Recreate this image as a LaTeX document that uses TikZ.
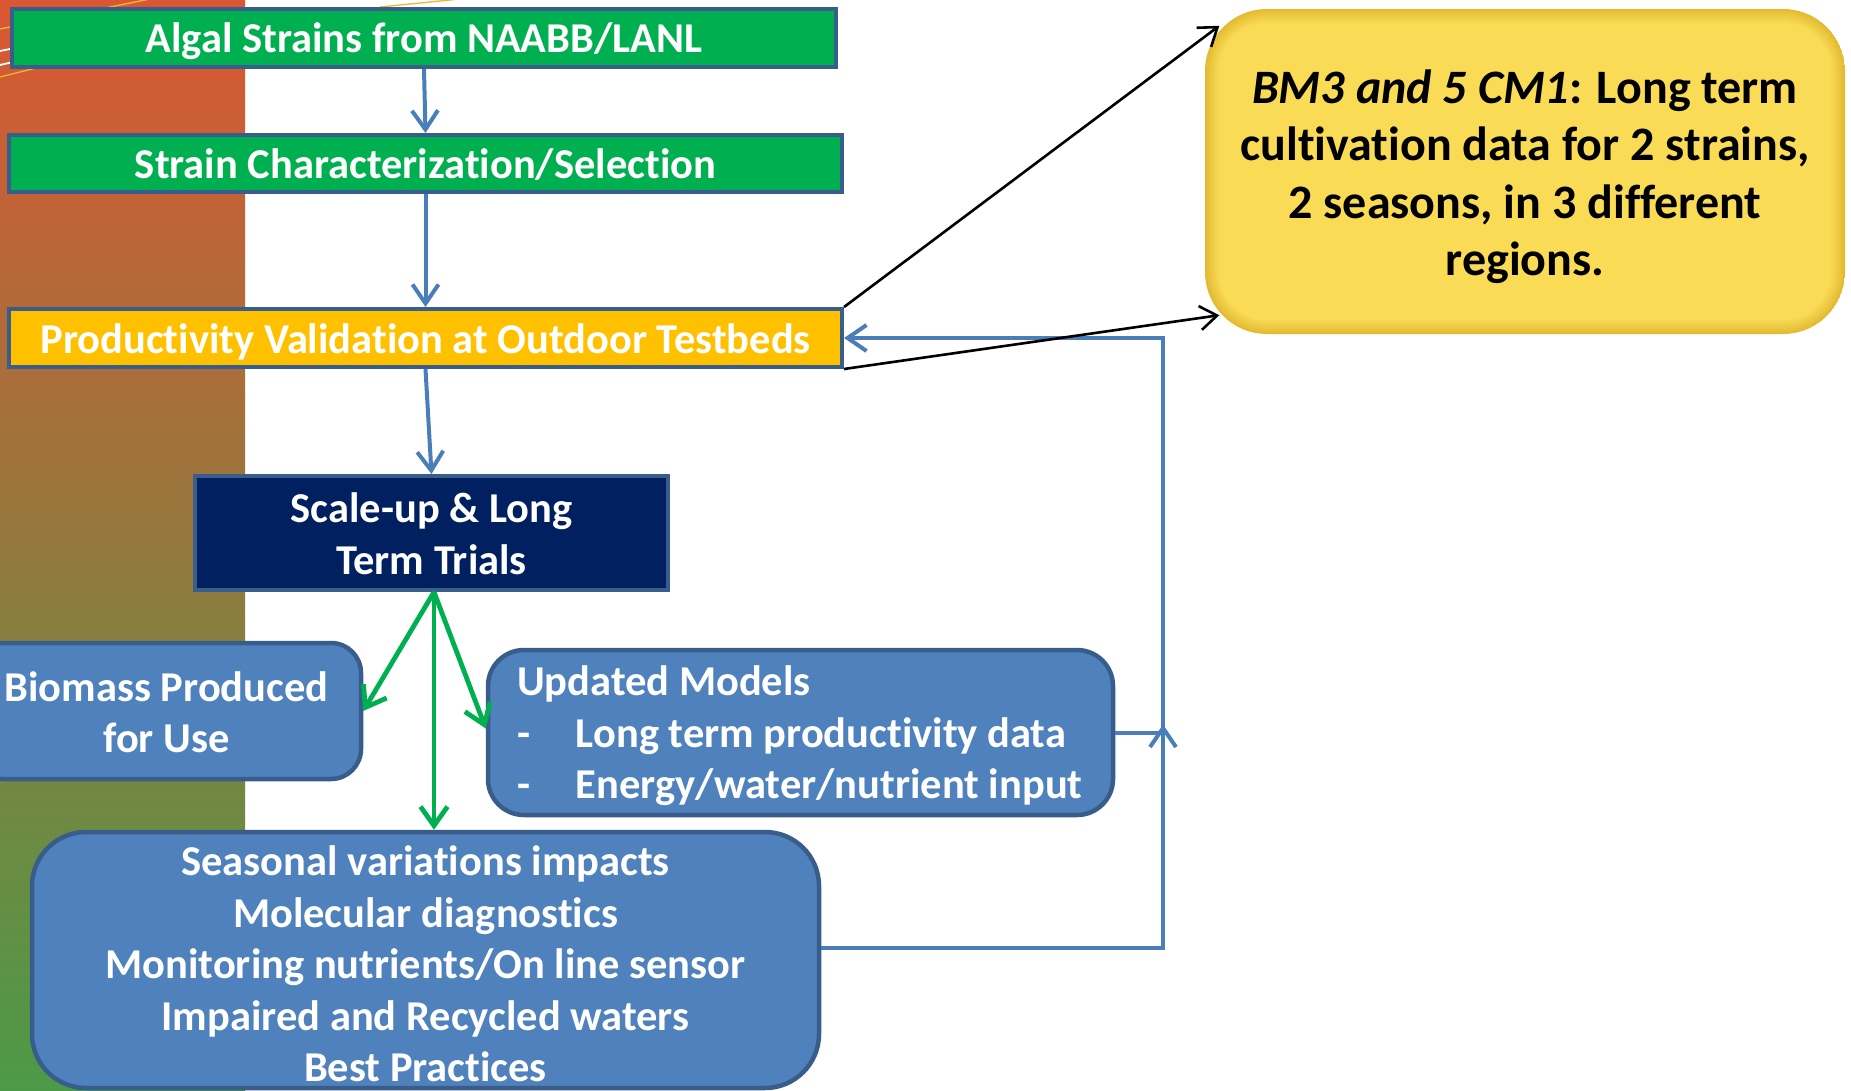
\documentclass[tikz,border=0pt]{standalone}
\usepackage{fontspec}
\setmainfont[Ligatures=NoCommon]{Carlito}
\usetikzlibrary{arrows.meta,calc}

\definecolor{stepgreen}{HTML}{00B050}
\definecolor{stepedge}{HTML}{3A5E8C}
\definecolor{steporange}{HTML}{FFC000}
\definecolor{stepnavy}{HTML}{002060}
\definecolor{outblue}{HTML}{4F81BD}
\definecolor{outedge}{HTML}{385D8A}
\definecolor{linkblue}{HTML}{4A7EBB}
\definecolor{yelface}{HTML}{FADB55}
\definecolor{yeledge}{HTML}{E3BB33}
\definecolor{striptop}{HTML}{DB5733}
\definecolor{stripmid}{HTML}{9A8440}
\definecolor{stripbot}{HTML}{4C9A47}
\definecolor{streakyellow}{HTML}{F2B531}

\begin{document}
\begin{tikzpicture}[x=1pt,y=-1pt,
  txt/.style={font=\bfseries\fontsize{42.5}{51.5}\selectfont},
  stepbox/.style={rectangle, draw=stepedge, line width=4pt, inner sep=0pt},
  outbox/.style={rectangle, rounded corners=#1, fill=outblue, draw=outedge,
    line width=4.5pt, inner sep=0pt},
  caption/.style={inner sep=0pt, align=center, text=white, txt},
  link/.style={draw=linkblue, line width=4pt,
    -{Straight Barb[length=19pt,width=26pt]}},
  branch/.style={draw=stepgreen, line width=4.8pt,
    -{Straight Barb[length=19pt,width=27pt]}},
  note/.style={draw=black, line width=2.6pt,
    -{Straight Barb[length=17pt,width=24pt]}},
  streak/.style={line width=1.3pt},
  yelbox/.style={rectangle, rounded corners=62pt, minimum width=640pt,
    minimum height=325pt, inner sep=0pt,
    path picture={
      \foreach \k in {0,...,8}{
        \pgfmathsetmacro\dd{\k*1.7}
        \pgfmathsetmacro\rr{62-\k*1.7}
        \pgfmathsetmacro\pc{100-\k*12.5}
        \fill[yeledge!\pc!yelface, rounded corners=\rr pt]
          ([xshift=\dd pt,yshift=-\dd pt]path picture bounding box.north west)
          rectangle
          ([xshift=-\dd pt,yshift=\dd pt]path picture bounding box.south east);
      }}}
]
% canvas and the graded strip on the left
\fill[white] (0,0) rectangle (1851,1090);
\useasboundingbox (0,0) rectangle (1851,1090);
\shade[top color=striptop, middle color=stripmid, bottom color=stripbot]
  (0,0) rectangle (245,1090);

% thin streaks in the top corner
\draw[streak, streakyellow] (0,29) -- (150,-1);
\draw[streak, white, line width=1.8pt] (0,51) -- (30,45);
\draw[streak, white, line width=1.8pt] (0,65) -- (30,58);
\draw[streak, streakyellow] (0,77) -- (60,62);
\draw[streak, streakyellow] (380,7) -- (460,-1);

% main chain of steps
\node[stepbox, fill=stepgreen, minimum width=824pt, minimum height=58pt]
  (algal) at (424,38) {};
\node[caption] (algal-t) at ([yshift=-3.5pt]algal.center)
  {Algal Strains from NAABB/LANL};
\node[stepbox, fill=stepgreen, minimum width=833pt, minimum height=57pt]
  (charac) at (425.5,163.5) {};
\node[caption] (charac-t) at ([yshift=-1.2pt]charac.center)
  {Strain Characterization/Selection};
\node[stepbox, fill=steporange, minimum width=833pt, minimum height=58pt]
  (valid) at (425.5,338) {};
\node[caption] (valid-t) at ([yshift=-3.5pt]valid.center)
  {Productivity Validation at Outdoor Testbeds};
\node[stepbox, fill=stepnavy, minimum width=473pt, minimum height=114pt]
  (scale) at (431.5,533) {};
\node[caption] (scale-t) at ([yshift=-0.6pt]scale.center)
  {Scale-up \& Long\\Term Trials};

% outcomes
\node[outbox=30pt, minimum width=389pt, minimum height=136pt]
  (biomass) at (166.5,711) {};
\node[caption] (biomass-t) at ([yshift=-1.2pt]biomass.center)
  {Biomass Produced\\for Use};
\node[outbox=36pt, minimum width=625pt, minimum height=165pt]
  (models) at (800.5,732.5) {};
\node[caption, align=flush left, text width=567pt] (models-t)
  at ([yshift=-3.5pt]models.center)
  {Updated Models\\
   \makebox[59pt][l]{-}Long term productivity data\\
   \makebox[59pt][l]{-}Energy/water/nutrient input};
\node[outbox=54pt, minimum width=787pt, minimum height=256pt]
  (season) at (425.5,960) {};
\node[caption] (season-t) at ([yshift=-3.9pt]season.center)
  {Seasonal variations impacts\\Molecular diagnostics\\
   Monitoring nutrients/On line sensor\\Impaired and Recycled waters\\
   Best Practices};

% summary note
\node[yelbox] (summary) at (1525,171.5) {};
\node[caption, text=black, font=\bfseries\fontsize{48}{57.5}\selectfont]
  (summary-t) at ([yshift=-5.3pt]summary.center)
  {{\itshape BM3 and 5 CM1}: Long term\\cultivation data for 2 strains,\\
   2 seasons, in 3 different\\regions.};

% connectors
\draw[link] (algal.south) -- (charac.north);
\draw[link] (charac.south) -- (valid.north);
\draw[link] (valid.south) -- (scale.north);

\coordinate (fork) at (434,592);
\draw[branch] (fork) -- (biomass.east);
\draw[branch] (fork) -- ([yshift=4pt]models.west);
\draw[branch] (fork) -- (fork |- season.north);

\coordinate (rail) at (1163,338);
\draw[link] ([yshift=12pt]season.east) -| (rail) -- (valid.east);
\draw[link] (models.east) -| ([yshift=8pt]rail |- models.east);

\draw[note] (valid.north east) -- ($(summary.north west)+(14.5,17)$);
\draw[note] (valid.south east) -- ($(summary.south west)+(14.5,-19)$);
\end{tikzpicture}
\end{document}
